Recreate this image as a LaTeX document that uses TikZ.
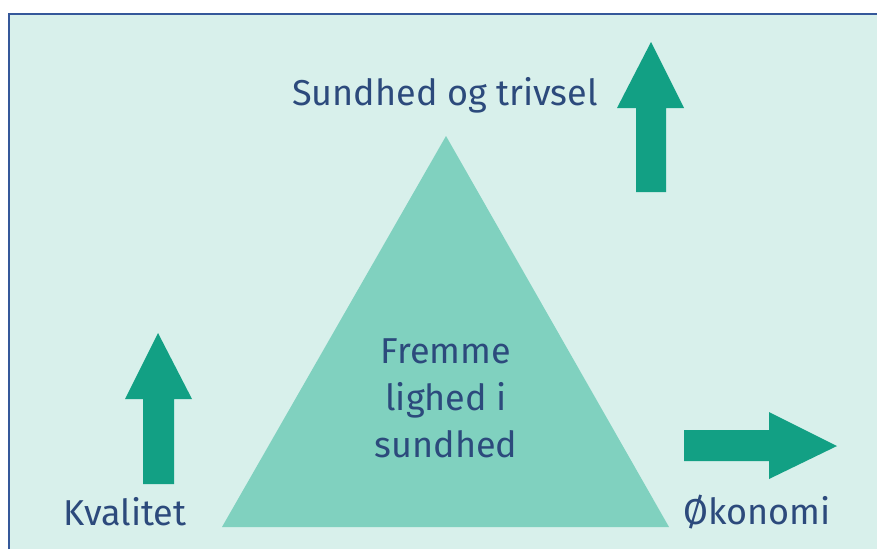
\documentclass[tikz,border=0pt]{standalone}
\usepackage{fontspec}
\setmainfont{Fira Sans}
\definecolor{panel}{HTML}{D8F0EB}
\definecolor{frame}{HTML}{35589A}
\definecolor{ink}{HTML}{2C4A7C}
\definecolor{pyramid}{HTML}{80D1BF}
\definecolor{arrowgreen}{HTML}{12A084}
\begin{document}
\begin{tikzpicture}[x=1pt,y=-1pt,
  txt/.style={font=\fontsize{36}{47}\selectfont,text=ink,inner sep=0pt},
  bigarrow/.style={fill=arrowgreen,draw=none},
]
\useasboundingbox (0,0) rectangle (877,549);
\fill[panel] (9,14) rectangle (877,549);
\draw[frame,line width=2.5pt] (9,549)--(9,14)--(877,14);
% pyramid
\fill[pyramid] (446,136)--(669,527)--(222,527)--cycle;
% arrows
\fill[bigarrow] (636,192)--(636,108)--(617,108)--(651,42)--(684,108)--(666,108)--(666,192)--cycle;
\fill[bigarrow] (143,484)--(143,399)--(125,399)--(158,333)--(192,399)--(174,399)--(174,484)--cycle;
\fill[bigarrow] (684,430)--(769,430)--(769,412)--(837,446)--(769,479)--(769,461)--(684,461)--cycle;
% labels
\node[txt] (top) at (445,95) {Sundhed og trivsel};
\node[txt,align=center] (mid) at (446,398) {Fremme\\lighed i\\sundhed};
\node[txt] (left) at (125,512) {Kvalitet};
\node[txt] (right) at (757,512) {Økonomi};
\end{tikzpicture}
\end{document}
